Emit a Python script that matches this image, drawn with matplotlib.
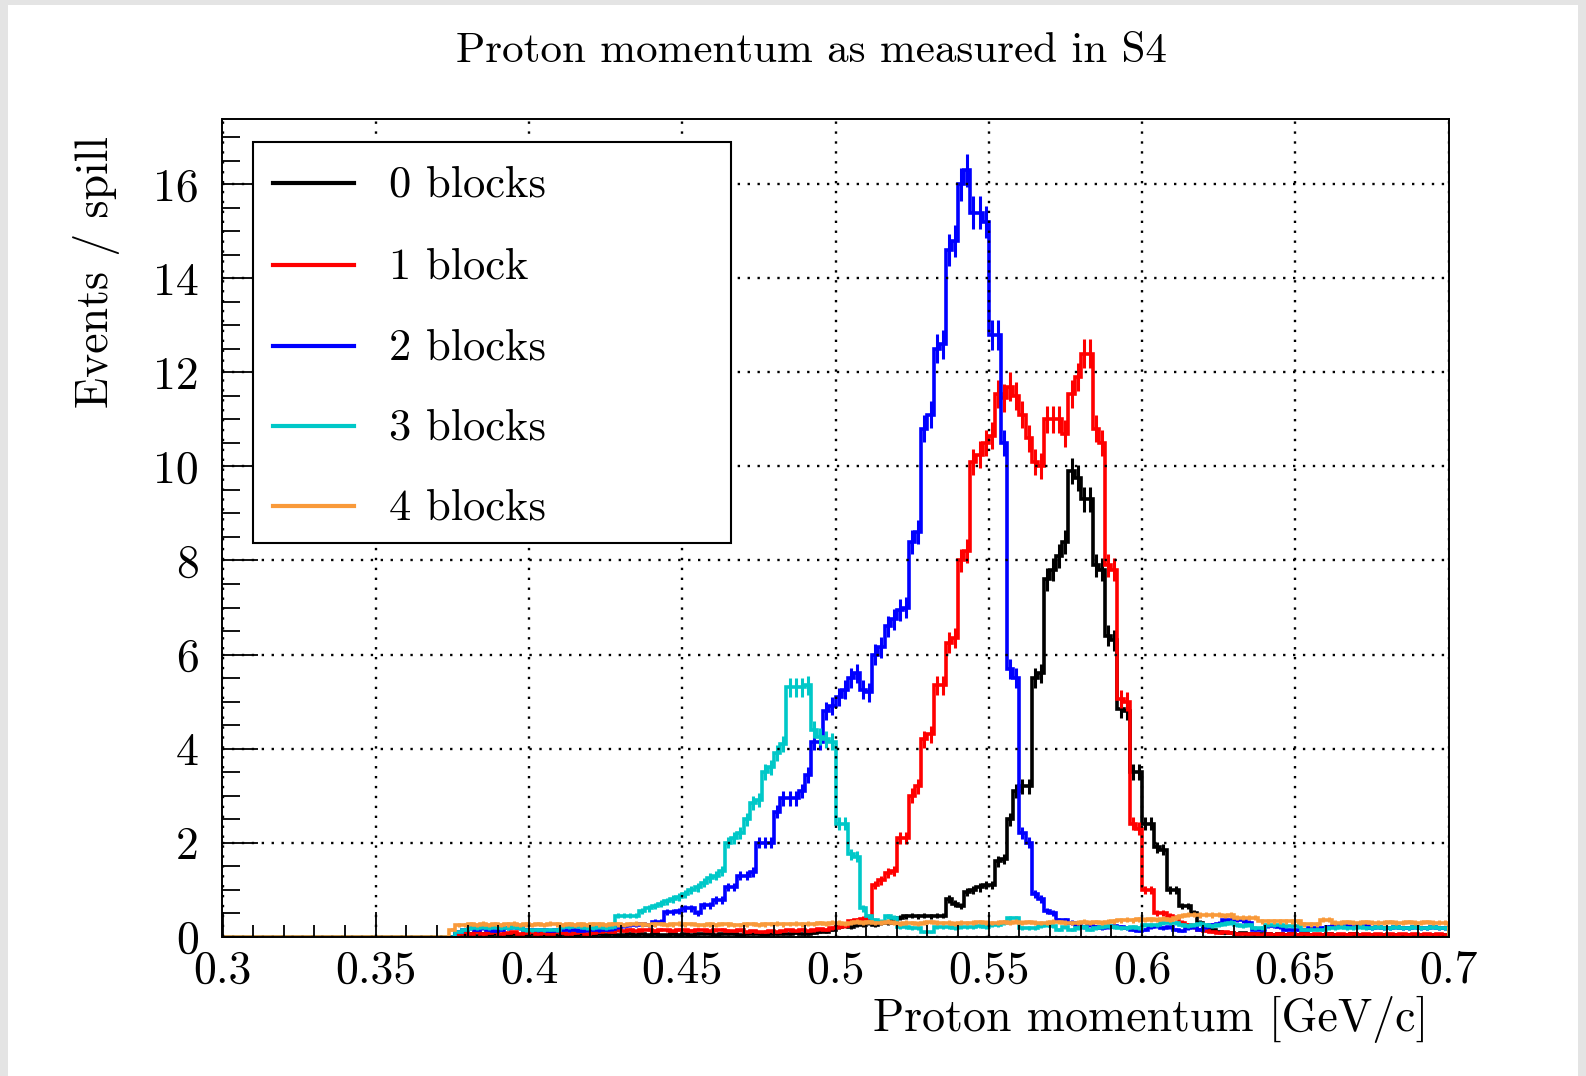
import numpy as np
import matplotlib
matplotlib.use("Agg")
import matplotlib.pyplot as plt
from matplotlib.patches import Rectangle
from matplotlib.lines import Line2D
from matplotlib.ticker import MultipleLocator

plt.rcParams['font.family'] = 'cmr10'
plt.rcParams['mathtext.fontset'] = 'cm'
plt.rcParams['axes.formatter.use_mathtext'] = True

# ---------------- data ----------------
x_min, x_max, n_bins = 0.3, 0.7, 200
n_spills = 130  # normalisation used for the Poisson error bars

labels = ["0 blocks", "1 block", "2 blocks", "3 blocks", "4 blocks"]
colors = ["#000000", "#ff0000", "#0000ff", "#00c8c8", "#f99a3a"]

x_ticks = [0.3, 0.35, 0.4, 0.45, 0.5, 0.55, 0.6, 0.65, 0.7]
x_tick_labels = ["0.3", "0.35", "0.4", "0.45", "0.5", "0.55", "0.6", "0.65", "0.7"]
y_ticks = [0, 2, 4, 6, 8, 10, 12, 14, 16]
y_tick_labels = ["0", "2", "4", "6", "8", "10", "12", "14", "16"]

empty_low = [0.0] * 37  # bins 0..36 (0.300 - 0.374)

blocks0 = empty_low + [
    0.0, 0.05, 0.03,
    0.05, 0.02, 0.05, 0.03, 0.05, 0.04, 0.03, 0.05, 0.04, 0.03,
    0.05, 0.04, 0.03, 0.05, 0.04, 0.05, 0.03, 0.04, 0.05, 0.04,
    0.03, 0.05, 0.04, 0.05, 0.04, 0.03, 0.05, 0.04, 0.05, 0.04,
    0.05, 0.04, 0.03, 0.05, 0.04, 0.05, 0.04, 0.05, 0.06, 0.05,
    0.04, 0.05, 0.06, 0.05, 0.04, 0.05, 0.06, 0.05, 0.04, 0.06,
    0.05, 0.06, 0.05, 0.07, 0.06, 0.05, 0.07, 0.1, 0.1, 0.15,
    0.2, 0.25, 0.2, 0.25, 0.25, 0.3, 0.25, 0.3, 0.3, 0.35,
    0.4, 0.43, 0.45, 0.43, 0.45, 0.43, 0.45, 0.45, 0.8, 0.7,
    0.65, 0.95, 1.0, 1.05, 1.1, 1.1, 1.6, 1.65, 2.5, 3.1,
    3.2, 3.2, 5.5, 5.6, 7.6, 7.8, 8.1, 8.4, 9.9, 9.75,
    9.3, 9.3, 7.9, 7.8, 6.4, 6.3, 4.85, 4.8, 3.5, 3.5,
    2.4, 2.4, 1.9, 1.85, 1.0, 1.0, 0.65, 0.65, 0.5, 0.3,
    0.2, 0.15, 0.1, 0.08, 0.07, 0.06, 0.07, 0.05, 0.06, 0.05,
    0.05, 0.04, 0.05, 0.04, 0.05, 0.04, 0.05, 0.04, 0.03, 0.04,
    0.05, 0.04, 0.03, 0.04, 0.05, 0.03, 0.04, 0.03, 0.04, 0.03,
    0.04, 0.03, 0.04, 0.03, 0.04, 0.03, 0.04, 0.03, 0.04, 0.03,
]

blocks1 = empty_low + [
    0.0, 0.05, 0.1,
    0.05, 0.1, 0.05, 0.08, 0.1, 0.05, 0.07, 0.1, 0.05, 0.08,
    0.1, 0.06, 0.08, 0.05, 0.1, 0.07, 0.05, 0.08, 0.1, 0.06,
    0.08, 0.1, 0.12, 0.1, 0.14, 0.12, 0.15, 0.12, 0.14, 0.15,
    0.13, 0.15, 0.14, 0.12, 0.15, 0.14, 0.13, 0.15, 0.14, 0.12,
    0.14, 0.15, 0.13, 0.12, 0.14, 0.1, 0.12, 0.1, 0.11, 0.12,
    0.1, 0.12, 0.14, 0.12, 0.15, 0.12, 0.14, 0.16, 0.15, 0.18,
    0.2, 0.22, 0.33, 0.35, 0.38, 0.4, 1.1, 1.2, 1.35, 1.4,
    2.1, 2.1, 3.0, 3.2, 4.2, 4.3, 5.35, 5.35, 6.25, 6.35,
    8.0, 8.2, 10.1, 10.25, 10.5, 10.65, 11.55, 11.45, 11.7, 11.5,
    11.1, 10.6, 10.1, 10.0, 11.0, 11.0, 11.0, 10.7, 11.55, 11.9,
    12.4, 12.4, 10.8, 10.5, 7.9, 7.8, 5.05, 5.0, 2.4, 2.3,
    1.0, 1.0, 0.5, 0.5, 0.45, 0.4, 0.3, 0.25, 0.2, 0.15,
    0.12, 0.1, 0.08, 0.1, 0.07, 0.06, 0.05, 0.06, 0.05, 0.04,
    0.05, 0.04, 0.05, 0.04, 0.05, 0.04, 0.05, 0.04, 0.05, 0.04,
    0.05, 0.04, 0.05, 0.04, 0.05, 0.04, 0.05, 0.04, 0.05, 0.04,
    0.05, 0.04, 0.05, 0.04, 0.05, 0.04, 0.05, 0.04, 0.05, 0.04,
]

blocks2 = empty_low + [
    0.0, 0.1, 0.15,
    0.18, 0.15, 0.18, 0.15, 0.12, 0.15, 0.18, 0.2, 0.18, 0.15,
    0.15, 0.14, 0.15, 0.12, 0.14, 0.15, 0.14, 0.15, 0.13, 0.14,
    0.15, 0.14, 0.15, 0.16, 0.2, 0.22, 0.25, 0.25, 0.27, 0.25,
    0.32, 0.32, 0.53, 0.53, 0.55, 0.6, 0.6, 0.5, 0.67, 0.67,
    0.78, 0.78, 1.06, 1.06, 1.3, 1.3, 1.38, 2.0, 2.0, 2.0,
    2.66, 2.94, 2.94, 2.94, 3.1, 3.44, 4.15, 4.15, 4.8, 4.9,
    5.1, 5.25, 5.5, 5.6, 5.25, 5.2, 6.0, 6.15, 6.6, 6.75,
    6.95, 7.0, 8.4, 8.6, 10.8, 11.1, 12.5, 12.6, 14.6, 14.8,
    16.0, 16.3, 15.4, 15.4, 15.2, 12.8, 12.8, 10.5, 5.7, 5.5,
    2.2, 2.0, 0.9, 0.8, 0.55, 0.5, 0.35, 0.35, 0.3, 0.25,
    0.2, 0.25, 0.2, 0.18, 0.2, 0.22, 0.2, 0.18, 0.15, 0.12,
    0.15, 0.2, 0.22, 0.18, 0.2, 0.15, 0.12, 0.18, 0.2, 0.15,
    0.2, 0.25, 0.28, 0.36, 0.36, 0.36, 0.35, 0.3, 0.15, 0.15,
    0.22, 0.22, 0.2, 0.15, 0.15, 0.15, 0.15, 0.18, 0.18, 0.18,
    0.2, 0.22, 0.22, 0.22, 0.2, 0.22, 0.22, 0.18, 0.2, 0.18,
    0.18, 0.2, 0.18, 0.18, 0.2, 0.18, 0.18, 0.2, 0.18, 0.18,
]

blocks3 = empty_low + [
    0.0, 0.1, 0.15,
    0.18, 0.18, 0.2, 0.18, 0.2, 0.18, 0.18, 0.2, 0.18, 0.14,
    0.14, 0.15, 0.14, 0.15, 0.14, 0.2, 0.2, 0.22, 0.2, 0.18,
    0.18, 0.2, 0.18, 0.2, 0.45, 0.45, 0.45, 0.45, 0.55, 0.6,
    0.65, 0.7, 0.75, 0.8, 0.85, 0.9, 1.0, 1.05, 1.15, 1.25,
    1.3, 1.4, 2.0, 2.1, 2.2, 2.5, 2.85, 2.9, 3.5, 3.6,
    3.9, 4.1, 5.3, 5.3, 5.3, 5.35, 4.4, 4.25, 4.2, 4.15,
    2.4, 2.4, 1.75, 1.7, 0.6, 0.43, 0.35, 0.32, 0.43, 0.4,
    0.21, 0.21, 0.18, 0.18, 0.1, 0.1, 0.21, 0.21, 0.21, 0.18,
    0.2, 0.2, 0.2, 0.22, 0.2, 0.25, 0.25, 0.3, 0.39, 0.39,
    0.18, 0.18, 0.18, 0.22, 0.25, 0.22, 0.15, 0.2, 0.15, 0.18,
    0.2, 0.15, 0.18, 0.2, 0.22, 0.2, 0.18, 0.18, 0.2, 0.18,
    0.25, 0.25, 0.25, 0.29, 0.29, 0.29, 0.25, 0.22, 0.25, 0.28,
    0.25, 0.22, 0.25, 0.28, 0.3, 0.25, 0.22, 0.25, 0.18, 0.18,
    0.25, 0.25, 0.25, 0.22, 0.22, 0.22, 0.15, 0.15, 0.15, 0.15,
    0.18, 0.18, 0.2, 0.18, 0.18, 0.2, 0.18, 0.18, 0.2, 0.18,
    0.18, 0.2, 0.18, 0.18, 0.2, 0.18, 0.18, 0.2, 0.18, 0.18,
]

blocks4 = empty_low + [
    0.15, 0.25, 0.25,
    0.27, 0.25, 0.28, 0.25, 0.27, 0.25, 0.26, 0.28, 0.25, 0.26,
    0.25, 0.27, 0.25, 0.28, 0.26, 0.25, 0.27, 0.25, 0.26, 0.25,
    0.27, 0.26, 0.25, 0.27, 0.26, 0.25, 0.27, 0.28, 0.26, 0.25,
    0.26, 0.27, 0.25, 0.26, 0.28, 0.26, 0.27, 0.25, 0.24, 0.26,
    0.25, 0.27, 0.26, 0.25, 0.24, 0.26, 0.27, 0.25, 0.26, 0.27,
    0.28, 0.26, 0.27, 0.28, 0.26, 0.28, 0.27, 0.29, 0.28, 0.3,
    0.3, 0.28, 0.3, 0.32, 0.3, 0.31, 0.29, 0.3, 0.32, 0.3,
    0.28, 0.3, 0.29, 0.28, 0.3, 0.31, 0.3, 0.29, 0.3, 0.28,
    0.3, 0.29, 0.3, 0.31, 0.3, 0.29, 0.3, 0.31, 0.3, 0.32,
    0.3, 0.31, 0.3, 0.29, 0.3, 0.32, 0.31, 0.3, 0.29, 0.3,
    0.32, 0.3, 0.31, 0.3, 0.32, 0.33, 0.35, 0.36, 0.35, 0.37,
    0.36, 0.37, 0.36, 0.38, 0.36, 0.4, 0.45, 0.47, 0.47, 0.46,
    0.47, 0.46, 0.47, 0.45, 0.46, 0.4, 0.4, 0.4, 0.4, 0.33,
    0.33, 0.33, 0.33, 0.33, 0.33, 0.33, 0.26, 0.26, 0.26, 0.36,
    0.36, 0.3, 0.3, 0.31, 0.3, 0.3, 0.31, 0.3, 0.3, 0.3,
    0.31, 0.3, 0.3, 0.31, 0.3, 0.3, 0.31, 0.3, 0.3, 0.3,
]

series = [blocks0, blocks1, blocks2, blocks3, blocks4]

# ---------------- figure ----------------
W, H = 1586, 1076
fig = plt.figure(figsize=(W / 100, H / 100), dpi=100)
fig.patch.set_facecolor("#e4e4e4")
fig.add_artist(Rectangle((8 / W, 0), (1578 - 8) / W, 1 - 5 / H,
                         transform=fig.transFigure, facecolor="white",
                         edgecolor="none", zorder=-5))

ax_l, ax_r, ax_t, ax_b = 222.5, 1448.5, 119.4, 936.7
ax = fig.add_axes([ax_l / W, 1 - ax_b / H, (ax_r - ax_l) / W, (ax_b - ax_t) / H])

edges = np.linspace(x_min, x_max, n_bins + 1)
centers = 0.5 * (edges[:-1] + edges[1:])

for vals, col in zip(series, colors):
    v = np.asarray(vals, dtype=float)
    assert len(v) == n_bins
    ax.stairs(v, edges, color=col, lw=2.6, zorder=2)
    err = np.sqrt(v / n_spills)
    m = v > 0
    ax.errorbar(centers[m], v[m], yerr=err[m], fmt="none", ecolor=col,
                elinewidth=2.2, capsize=0, zorder=2)

ax.set_xlim(x_min, x_max)
ax.set_ylim(0, 17.38)

ax.set_xticks(x_ticks, x_tick_labels)
ax.set_yticks(y_ticks, y_tick_labels)
ax.xaxis.set_minor_locator(MultipleLocator(0.01))
ax.yaxis.set_minor_locator(MultipleLocator(0.5))

ax.tick_params(axis="x", which="major", direction="in", length=18, width=1.3,
               labelsize=33, pad=10, top=False)
ax.tick_params(axis="x", which="minor", direction="in", length=9, width=1.3, top=False)
ax.tick_params(axis="y", which="major", direction="in", length=26, width=1.3,
               labelsize=33, pad=17, right=False)
ax.tick_params(axis="y", which="minor", direction="in", length=13, width=1.3, right=False)

for sp in ax.spines.values():
    sp.set_linewidth(1.4)
    sp.set_zorder(6)

ax.grid(True, which="major", color="black", linestyle=(0, (1, 3.2)), linewidth=1.7, zorder=3)
ax.set_axisbelow(False)

# ---------------- legend box ----------------
def ax_y(py):
    return (ax_b - py) / (ax_b - ax_t)

def ax_x(px):
    return (px - ax_l) / (ax_r - ax_l)

box_l, box_r, box_t, box_b = 253, 731, 141.6, 543
ax.add_patch(Rectangle((ax_x(box_l), ax_y(box_b)), ax_x(box_r) - ax_x(box_l),
                       ax_y(box_t) - ax_y(box_b), transform=ax.transAxes,
                       facecolor="white", edgecolor="black", lw=1.5, zorder=7))
row_y = [185, 267, 348, 428, 508]
for lab, col, py in zip(labels, colors, row_y):
    ax.add_line(Line2D([ax_x(273), ax_x(354)], [ax_y(py - 2), ax_y(py - 2)],
                       transform=ax.transAxes, color=col, lw=3.0, zorder=8))
    ax.text(ax_x(389), ax_y(py), lab, transform=ax.transAxes, fontsize=32,
            ha="left", va="center", zorder=8)

# ---------------- titles ----------------
fig.text(811 / W, 1 - 51.5 / H, "Proton momentum as measured in S4",
         fontsize=31, ha="center", va="center")
fig.text(1428 / W, 1 - 1019 / H, "Proton momentum [GeV/c]",
         fontsize=33, ha="right", va="center")
fig.text(96 / W, 1 - 136.6 / H, "Events / spill", fontsize=33,
         ha="center", va="top", rotation=90)

fig.savefig("out.png", dpi=100, facecolor=fig.get_facecolor())
